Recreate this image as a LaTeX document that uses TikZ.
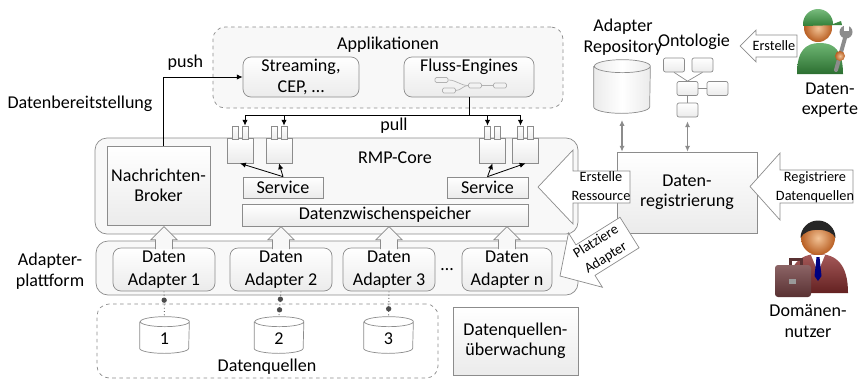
\documentclass[tikz,border=0pt]{standalone}
\usepackage{fontspec}
\setmainfont{Carlito}
\usetikzlibrary{arrows.meta,positioning,calc}

\definecolor{linegray}{HTML}{8C8C8C}
\definecolor{panelfill}{HTML}{F8F8F8}
\definecolor{boxfill}{HTML}{EBEBEB}
\definecolor{skin}{HTML}{E8913F}
\definecolor{skindark}{HTML}{B85E22}
\definecolor{capgreen}{HTML}{3E9E45}
\definecolor{suitred}{HTML}{8E2F2F}
\definecolor{casebrown}{HTML}{6F3D3F}

% block arrows, drawn from the tip (origin)
\tikzset{
  pics/uparrow/.style={code={
    \draw[linegray, fill=panelfill, line width=0.6pt]
      (-8.5,1.5) -- (-8.5,-8) -- (-13,-8) -- (0,-21) -- (13,-8) -- (8.5,-8) -- (8.5,1.5);
  }},
  pics/leftarrow/.style n args={4}{code={
    \draw[linegray, fill=white, line width=0.6pt]
      (0,0) -- (#2,-#3) -- (#2,-#4) -- (#1,-#4) -- (#1,#4) -- (#2,#4) -- (#2,#3) -- cycle;
  }},
}

% database drum around a node: name, half width, end radius, fill options
\newcommand{\drawdb}[4]{%
  \path[#4] ([yshift=-#3]#1.north west) -- ([yshift=#3]#1.south west)
    arc[start angle=180, end angle=360, x radius=#2, y radius=#3]
    -- ([yshift=-#3]#1.north east)
    arc[start angle=0, end angle=180, x radius=#2, y radius=#3] -- cycle;
  \draw[linegray] ([yshift=-#3]#1.north west) -- ([yshift=#3]#1.south west)
    arc[start angle=180, end angle=360, x radius=#2, y radius=#3]
    -- ([yshift=-#3]#1.north east)
    arc[start angle=0, end angle=180, x radius=#2, y radius=#3]
    arc[start angle=180, end angle=360, x radius=#2, y radius=#3];
}

\begin{document}
\begin{tikzpicture}
  [x=0.3mm, y=-0.3mm, font=\fontsize{15.4}{17.5}\selectfont, line width=0.6pt,
  sz/.style 2 args={minimum width=#1*0.3mm, minimum height=#2*0.3mm},
  panel/.style={draw=linegray, fill=panelfill, rounded corners=3.6mm},
  dashpanel/.style={panel, dashed},
  box/.style={draw=linegray, top color=white, bottom color=boxfill, align=center, inner sep=0pt},
  rbox/.style={box, rounded corners=2.4mm},
  qbody/.style={box, sz={26}{25}},
  qtube/.style={box, sz={6}{13}},
  db/.style={inner sep=0pt},
  gnode/.style={draw=black!30, fill=black!5, rounded corners=0.4mm, sz={13}{5}, inner sep=0pt},
  onode/.style={box, rounded corners=0.6mm, sz={21}{14}},
  lbl/.style={align=center, inner sep=0pt},
  small/.style={font=\fontsize{12.2}{16}\selectfont},
  dotline/.style={black!60, dotted, line width=0.8pt},
  dotmark/.style={circle, fill=black!70, inner sep=0pt, minimum size=1.6mm},
  link/.style={-{Latex[length=5pt, width=4.5pt]}, line width=0.7pt},
  twoway/.style={{Latex[length=5pt, width=4.5pt]}-{Latex[length=5pt, width=4.5pt]}, linegray, line width=0.9pt}]

  \useasboundingbox (0,0) rectangle (861,380);

  % Applikationen
  \node[dashpanel, sz={350}{81}] (apps) at (388,67.5) {};
  \node[lbl] (appslbl) at (388,45) {Applikationen};
  \node[rbox, sz={116}{40}] (stream) at (301,77) {Streaming,\\CEP, \ldots};
  \node[rbox, sz={130}{40}] (fluss) at (469,77) {};
  \node[lbl] (flusslbl) at (469,67) {Fluss-Engines};
  \node[gnode] (g1) at (441.5,80) {};
  \node[gnode] (g2) at (449,90.5) {};
  \node[gnode] (g3) at (475,85.5) {};
  \node[gnode] (g4) at (500,85.5) {};
  \draw[black!30] (g1.east) to[out=0,in=180] (g3.west);
  \draw[black!30] (g2.east) to[out=0,in=180] (g3.west);
  \draw[black!30] (g3.east) -- (g4.west);

  \node[lbl] (provlbl) at (80,104) {Datenbereitstellung};

  % RMP-Core
  \node[panel, sz={483}{96}] (core) at (336.5,186) {};
  \node[lbl] (corelbl) at (395,158) {RMP-Core};
  \node[box, sz={103}{79}] (broker) at (158.5,185.5) {Nachrichten-\\Broker};
  \node[box, sz={80}{21}] (svc1) at (283,187.5) {Service};
  \node[box, sz={81}{21}] (svc2) at (487.5,187.5) {Service};
  \node[box, sz={286}{22}] (cache) at (385,215) {Datenzwischenspeicher};

  % queues
  \foreach \q/\cx in {1/240,2/279,3/492.5,4/525.5}{
    \node[qbody] (q\q) at (\cx,150.5) {};
    \node[qtube] (q\q-l) at (\cx-5,132.5) {};
    \node[qtube] (q\q-r) at (\cx+5,132.5) {};
  }

  % push / pull
  \draw[link] ([xshift=4.5*0.3mm]broker.north) |- node[pos=0.64, above=2pt] {push} (stream.west);
  \coordinate (pullL) at (245,115);
  \coordinate (pullR) at (520.5,115);
  \draw[line width=0.7pt] (fluss.south) -- (fluss.south |- pullL);
  \draw[line width=0.7pt] (pullL) -- (pullR);
  \foreach \t in {q1-r,q2-r,q3-l,q4-l}
    \draw[link] (\t.north |- pullL) -- (\t.north);
  \node[lbl] (pulllbl) at (394,126) {pull};

  \draw[link] (svc1.north) -- (q1.south);
  \draw[link] (svc1.north) -- (q2.south);
  \draw[link] (svc2.north) -- (q3.south);
  \draw[link] (svc2.north) -- (q4.south);

  % Adapterplattform
  \node[panel, sz={482}{54}] (platform) at (337,268) {};
  \node[lbl] (platformlbl) at (50,271) {Adapter-\\plattform};
  \foreach \a/\cx/\w in {1/164/102, 2/281/102, 3/389/92, n/507/90}
    \node[rbox, sz={\w}{43}, font=\fontsize{15.4}{19.5}\selectfont] (ad\a) at (\cx,269.5) {Daten\\Adapter \a};
  \node[lbl] (moreads) at (447,270) {\ldots};
  \foreach \a in {1,2,3,n}
    \pic at (ad\a.north) {uparrow};

  % Datenquellen
  \node[dashpanel, fill=white, sz={341}{74}] (sources) at (267.5,341) {};
  \node[lbl] (sourceslbl) at (267,367) {Datenquellen};
  \foreach \s/\cx in {1/164.5, 2/279, 3/388.5}{
    \node[db, sz={49}{36}] (src\s) at (\cx,335) {};
    \drawdb{src\s}{7.35mm}{1.5mm}{fill=none}
    \node[lbl] at ([yshift=-1mm]src\s.center) {\s};
  }
  \draw[dotline] (ad1.south) -- node[dotmark, pos=0.35] {} (src1.north);
  \draw[dotline] (ad2.south) -- node[dotmark, pos=0.31] {} node[dotmark, pos=0.73] {} (src2.north);
  \draw[dotline] (ad3.south) -- node[dotmark, pos=0.69] {} (src3.north);

  \node[box, sz={125}{68}] (monitor) at (515.5,341) {Datenquellen-\\überwachung};

  % Datenregistrierung
  \node[box, sz={140}{81}] (reg) at (687,192.5) {Daten-\\registrierung};
  \pic[rotate=32] at (560,276) {leftarrow={82}{30}{32}{18}};
  \node[lbl, small, rotate=32] (placelbl) at (601,250) {Platziere\\Adapter};
  \pic at (538,187) {leftarrow={92}{35}{37}{16}};
  \node[lbl, small] (createlbl) at (601,186) {Erstelle\\Ressource};
  \pic at (750,186.5) {leftarrow={103}{30}{33.5}{16.5}};
  \node[lbl, small] (registerlbl) at (815,187) {Registriere\\Datenquellen};

  % Repository und Ontologie
  \node[lbl] (repolbl) at (623,37) {Adapter\\Repository};
  \node[db, sz={56}{53}] (repo) at (622,86.5) {};
  \drawdb{repo}{8.4mm}{1.95mm}{left color=boxfill, right color=boxfill, middle color=white}
  \node[lbl] (ontolbl) at (694,42) {Ontologie};
  \node[onode] (o1) at (674,65) {};
  \node[onode] (o2) at (702.5,65) {};
  \node[onode] (o3) at (687.5,88.5) {};
  \node[onode] (o4) at (717.5,88.5) {};
  \node[onode] (o5) at (687.5,110) {};
  \draw[linegray] (o1.south) -- (o3.north);
  \draw[linegray] (o2.south) -- (o3.north);
  \draw[linegray] (o3.east) -- (o4.west);
  \draw[linegray] (o3.south) -- (o5.north);
  \draw[twoway, shorten <=2mm] (repo.south) -- (repo.south |- reg.north);
  \draw[twoway, shorten <=1.2mm] (o5.south) -- (o5.south |- reg.north);

  \pic at (740,46) {leftarrow={57}{16}{16}{11}};
  \node[lbl, small] (expertlbl) at (774,46) {Erstelle};

  % Datenexperte
  \shade[top color=capgreen!75!white, bottom color=capgreen!70!black]
    (797,74) .. controls (797,50) and (806,43) .. (820,43)
    .. controls (834,43) and (843,50) .. (843,74) -- cycle;
  \shade[inner color=skin!55!white, outer color=skindark] (818,28) circle[radius=14];
  \shade[top color=capgreen!70!white, bottom color=capgreen!80!black]
    (803,24) arc[start angle=180, end angle=360, radius=15] -- (841,21) -- (842,25) -- (803,26) -- cycle;
  \draw[black!45, line width=1.2mm, line cap=round] (836,70) -- (845,38);
  \fill[black!45] (846,32) circle[radius=6.5];
  \fill[white] (843.5,22) rectangle (848.5,31);
  \shade[inner color=skin!55!white, outer color=skindark] (840,56) circle[radius=5];
  \node[lbl] (expert) at (830,100) {Daten-\\experte};

  % Domaenennutzer
  \shade[top color=suitred!80!white, bottom color=suitred!70!black]
    (788,293) .. controls (788,264) and (800,254) .. (818,254)
    .. controls (836,254) and (848,264) .. (848,293) -- cycle;
  \fill[white] (811,255) -- (825,255) -- (818,272) -- cycle;
  \fill[blue!50!black] (816.5,257) -- (819.5,257) -- (821.5,276) -- (818,281) -- (814.5,276) -- cycle;
  \shade[inner color=skin!55!white, outer color=skindark] (818,238) circle[radius=17];
  \fill[black!85] (800.5,238) arc[start angle=180, end angle=360, radius=17.5]
    .. controls (832,228) and (806,226) .. (800.5,238);
  \draw[casebrown!80!black, line width=0.9mm] (790,266) -- (790,259) -- (801,259) -- (801,266);
  \shade[top color=casebrown!80!white, bottom color=casebrown!80!black, rounded corners=0.9mm]
    (775,265) rectangle (811,297);
  \fill[black!40] (789,279) rectangle (796,284);
  \node[lbl] (user) at (808,321) {Domänen-\\nutzer};
\end{tikzpicture}
\end{document}
